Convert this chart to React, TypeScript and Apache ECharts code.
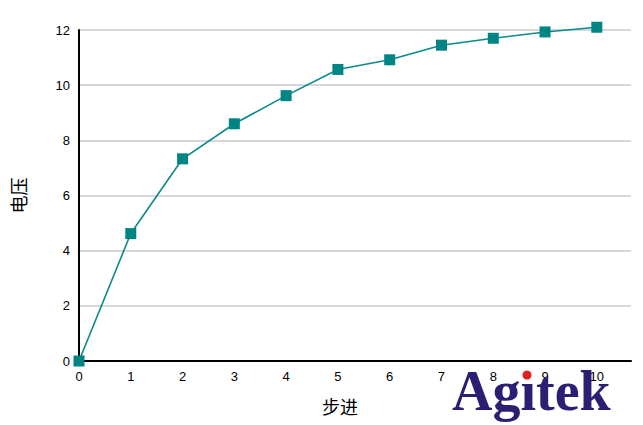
import React, { useEffect, useRef } from "react";
import * as echarts from "echarts";

const steps = [0, 1, 2, 3, 4, 5, 6, 7, 8, 9, 10];
const voltage = [0, 4.62, 7.33, 8.6, 9.62, 10.57, 10.92, 11.45, 11.7, 11.93, 12.1];
const xTitle = "步进";
const yTitle = "电压";

export default function App() {
  const ref = useRef<HTMLDivElement>(null);
  useEffect(() => {
    document.body.style.margin = "0";
    const chart = echarts.init(ref.current!, null, { renderer: "svg" });
    chart.setOption({
      animation: false,
      backgroundColor: "#ffffff",
      grid: { left: 79, right: 12, top: 30, bottom: 64, containLabel: false },
      xAxis: {
        type: "value",
        min: 0,
        max: 10.66,
        interval: 1,
        name: xTitle,
        nameLocation: "middle",
        nameGap: 36,
        nameTextStyle: {
          fontSize: 18,
          color: "#000",
          fontFamily: "Noto Sans CJK SC",
          padding: [0, 30, 0, 0],
        },
        axisLine: { show: true, onZero: false, lineStyle: { color: "#000", width: 2 } },
        axisTick: { show: false },
        splitLine: { show: false },
        axisLabel: {
          showMaxLabel: false,
          color: "#000",
          fontSize: 13,
          fontFamily: "Liberation Sans",
          margin: 9,
        },
      },
      yAxis: {
        type: "value",
        min: 0,
        max: 12,
        interval: 2,
        name: yTitle,
        nameLocation: "middle",
        nameRotate: 90,
        nameGap: 52,
        nameTextStyle: { fontSize: 18, color: "#000", fontFamily: "Noto Sans CJK SC" },
        axisLine: { show: true, lineStyle: { color: "#000", width: 2 } },
        axisTick: { show: false },
        splitLine: { show: true, lineStyle: { color: "#d7d7db", width: 2 } },
        axisLabel: {
          color: "#000",
          fontSize: 13,
          fontFamily: "Liberation Sans",
          margin: 9,
        },
      },
      series: [
        {
          type: "line",
          data: steps.map((s, i) => [s, voltage[i]]),
          symbol: "rect",
          symbolSize: 11,
          itemStyle: { color: "#008585" },
          lineStyle: { color: "#0a8a8a", width: 1.6 },
          clip: false,
        },
      ],
      graphic: [
        {
          type: "text",
          left: 452,
          top: 363,
          z: 100,
          style: {
            text: "Agıtek",
            font: "bold 56px 'Liberation Serif', 'Times New Roman', serif",
            fill: "#2b1f74",
          },
        },
        {
          type: "circle",
          z: 101,
          shape: { cx: 527, cy: 375, r: 4.5 },
          style: { fill: "#e02020" },
        },
      ],
    });
    return () => chart.dispose();
  }, []);
  return <div ref={ref} style={{ width: 643, height: 425 }} />;
}
